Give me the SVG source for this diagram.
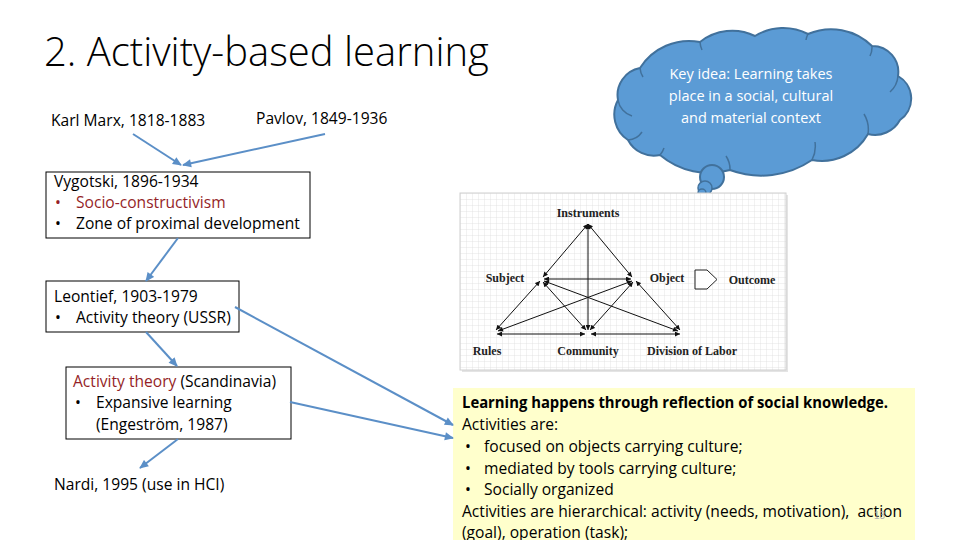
<svg xmlns="http://www.w3.org/2000/svg" width="960" height="540" viewBox="0 0 960 540">
<style>
.t{font-family:"Open Sans","Liberation Sans",sans-serif;font-size:15.6px;fill:#000}
.title{font-family:"Open Sans","Liberation Sans",sans-serif;font-size:40px;font-weight:300;fill:#000}
.red{fill:#951F27}
.box{fill:#fff;stroke:#000;stroke-width:1}
.conn{stroke:#5B8FC7;stroke-width:2;fill:none;marker-end:url(#ah)}
.lab{font-family:"Liberation Serif",serif;font-size:12px;font-weight:bold;fill:#222;text-anchor:middle}
.al{stroke:#111;stroke-width:1;fill:none;marker-start:url(#bh);marker-end:url(#bh)}
.cw{font-family:"Open Sans","Liberation Sans",sans-serif;font-size:14.5px;fill:#fff;text-anchor:middle}
</style>
<defs>
<marker id="ah" viewBox="0 0 10 10" refX="9" refY="5" markerWidth="10" markerHeight="9" markerUnits="userSpaceOnUse" orient="auto"><path d="M0,0.5 L10,5 L0,9.5 z" fill="#5B8FC7"/></marker>
<marker id="bh" viewBox="0 0 10 10" refX="10" refY="5" markerWidth="6" markerHeight="5" markerUnits="userSpaceOnUse" orient="auto-start-reverse"><path d="M0,0 L10,5 L0,10 z" fill="#111"/></marker>
<pattern id="grid" x="460" y="193" width="6" height="6" patternUnits="userSpaceOnUse"><path d="M6 0 L0 0 0 6" fill="none" stroke="#dedede" stroke-width="0.8"/></pattern>
</defs>
<rect width="960" height="540" fill="#fff"/>
<text class="title" x="44" y="66">2. Activity-based learning</text>

<g id="node-marx"><text class="t" x="51" y="126">Karl Marx, 1818-1883</text></g>
<g id="node-pavlov"><text class="t" x="256" y="124">Pavlov, 1849-1936</text></g>

<g id="node-vygotski">
<rect class="box" x="46" y="172" width="264" height="66"/>
<text class="t" x="54" y="187">Vygotski, 1896-1934</text>
<text class="t red" x="55" y="208">•</text><text class="t red" x="76" y="208">Socio-constructivism</text>
<text class="t" x="55" y="229">•</text><text class="t" x="76" y="229">Zone of proximal development</text>
</g>

<g id="node-leontief">
<rect class="box" x="46" y="281" width="193" height="51"/>
<text class="t" x="54" y="302">Leontief, 1903-1979</text>
<text class="t" x="55" y="323">•</text><text class="t" x="76" y="323">Activity theory (USSR)</text>
</g>

<g id="node-scandinavia">
<rect class="box" x="66" y="367" width="225" height="72"/>
<text class="t" x="73" y="387"><tspan class="red">Activity theory</tspan> (Scandinavia)</text>
<text class="t" x="75" y="408">•</text><text class="t" x="96" y="408">Expansive learning</text>
<text class="t" x="96" y="430">(Engeström, 1987)</text>
</g>

<g id="node-nardi"><text class="t" x="54" y="490">Nardi, 1995 (use in HCI)</text></g>

<g id="node-cloud">
<path d="M618,100 A27.5,27.5 0 0 1 640,68 A58,58 0 0 1 700,42 A52,52 0 0 1 755,36 A53.6,53.6 0 0 1 808,34 A58,58 0 0 1 872,46 A26,26 0 0 1 898,76 A26,26 0 0 1 900,120 A28.5,28.5 0 0 1 868,134 A53,53 0 0 1 812,160 A90,90 0 0 1 730,170 A76,76 0 0 1 660,155 A29,29 0 0 1 628,140 A30.5,30.5 0 0 1 618,100 Z" fill="#5B9BD5" stroke="#41719C" stroke-width="2"/>
<path d="M640,68 A20,20 0 0 0 643,77 M700,42 A22,22 0 0 0 702,50 M808,34 A20,20 0 0 0 806,40 M872,46 A20,20 0 0 1 870,56 M898,76 A24,24 0 0 1 890,92 M868,134 A30,30 0 0 0 864,114 M812,160 A30,30 0 0 0 815,142 M730,170 A24,24 0 0 0 726,156 M660,155 A20,20 0 0 0 664,148 M628,140 A18,18 0 0 0 642,132 M618,100 A20,20 0 0 0 632,116" fill="none" stroke="#41719C" stroke-width="1.5"/>
<circle cx="712" cy="177" r="12" fill="#5B9BD5" stroke="#41719C" stroke-width="2"/>
<circle cx="705" cy="188" r="7" fill="#5B9BD5" stroke="#41719C" stroke-width="1.5"/>
<circle cx="702" cy="193" r="4" fill="#5B9BD5" stroke="#41719C" stroke-width="1.5"/>
<text class="cw" x="751" y="79">Key idea: Learning takes</text>
<text class="cw" x="751" y="101">place in a social, cultural</text>
<text class="cw" x="751" y="123">and material context</text>
</g>

<g id="node-activity-system">
<rect x="462" y="195" width="326" height="177" fill="#e4e4e4"/>
<rect x="460" y="193" width="326" height="177" fill="#fff"/>
<rect x="460" y="193" width="326" height="177" fill="url(#grid)" stroke="#cfcfcf" stroke-width="1"/>
<line class="al" x1="588" y1="224" x2="543" y2="277"/>
<line class="al" x1="588" y1="224" x2="632" y2="277"/>
<line class="al" x1="588" y1="224" x2="588" y2="330"/>
<line class="al" x1="544" y1="279" x2="631" y2="279"/>
<line class="al" x1="540" y1="281" x2="496" y2="330"/>
<line class="al" x1="543" y1="282" x2="586" y2="330"/>
<line class="al" x1="544" y1="281" x2="678" y2="331"/>
<line class="al" x1="632" y1="281" x2="498" y2="331"/>
<line class="al" x1="633" y1="282" x2="590" y2="330"/>
<line class="al" x1="636" y1="281" x2="680" y2="330"/>
<line class="al" x1="497" y1="334" x2="585" y2="334"/>
<line class="al" x1="591" y1="334" x2="680" y2="334"/>
<path d="M695,270 H707 L717,279.5 L707,289 H695 Z" fill="#fff" stroke="#222" stroke-width="1"/>
<text class="lab" x="588" y="217">Instruments</text>
<text class="lab" x="505" y="282">Subject</text>
<text class="lab" x="667" y="282">Object</text>
<text class="lab" x="752" y="284">Outcome</text>
<text class="lab" x="487" y="355">Rules</text>
<text class="lab" x="588" y="355">Community</text>
<text class="lab" x="692" y="355">Division of Labor</text>
</g>

<g id="node-learning">
<rect x="453" y="388" width="462" height="152" fill="#FFFFCC"/>
<text class="t" x="462" y="408" font-weight="bold" textLength="426" lengthAdjust="spacingAndGlyphs">Learning happens through reflection of social knowledge.</text>
<text class="t" x="462" y="430">Activities are:</text>
<text class="t" x="465" y="452">•</text><text class="t" x="484" y="452">focused on objects carrying culture;</text>
<text class="t" x="465" y="474">•</text><text class="t" x="484" y="474">mediated by tools carrying culture;</text>
<text class="t" x="465" y="495">•</text><text class="t" x="484" y="495">Socially organized</text>
<text class="t" x="462" y="517">Activities are hierarchical: activity (needs, motivation),&#160; action</text>
<text class="t" x="462" y="538">(goal), operation (task);</text>
<text x="874" y="519" font-family="Liberation Sans, sans-serif" font-size="10" fill="#b0b0b0">13</text>
</g>

<g id="connectors">
<line class="conn" x1="133" y1="134" x2="181" y2="165"/>
<line class="conn" x1="325" y1="134" x2="183" y2="165"/>
<line class="conn" x1="178" y1="238" x2="146" y2="281"/>
<line class="conn" x1="146" y1="332" x2="177" y2="366"/>
<line class="conn" x1="235" y1="307" x2="453" y2="425"/>
<line class="conn" x1="290" y1="402" x2="453" y2="438"/>
<line class="conn" x1="178" y1="439" x2="140" y2="468"/>
</g>
</svg>
